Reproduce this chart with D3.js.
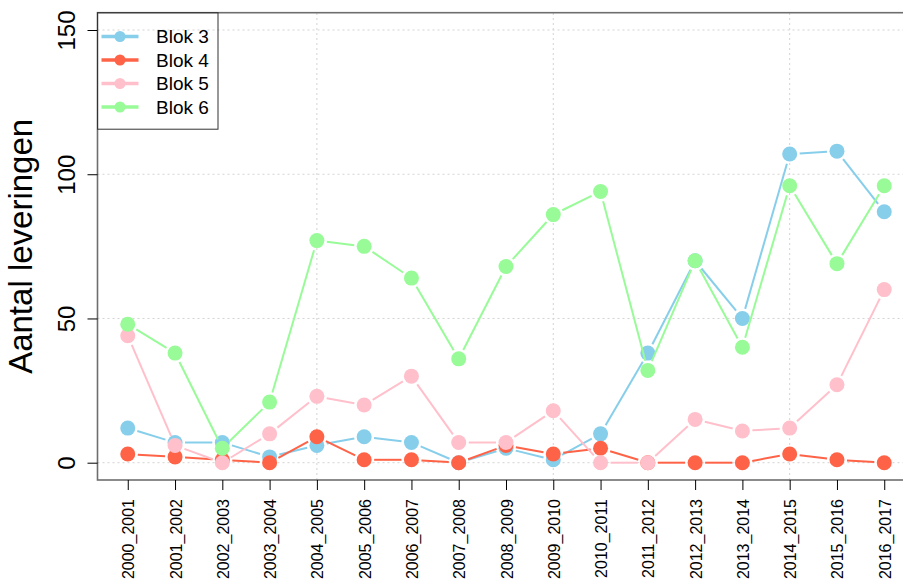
<!DOCTYPE html>
<html>
<head>
<meta charset="utf-8">
<script src="https://cdn.jsdelivr.net/npm/d3@7"></script>
<style>
  body { margin: 0; background: #fff; }
  svg { display: block; font-family: "Liberation Sans", Arial, sans-serif; }
</style>
</head>
<body>
<svg id="chart" width="903" height="580"></svg>
<script>
// seizoenen (x categories)
const seizoenen = ["2000_2001", "2001_2002", "2002_2003", "2003_2004", "2004_2005", "2005_2006",
  "2006_2007", "2007_2008", "2008_2009", "2009_2010", "2010_2011", "2011_2012", "2012_2013",
  "2013_2014", "2014_2015", "2015_2016", "2016_2017"];

const blok3 = [12, 7, 7, 2, 6, 9, 7, 0, 5, 1, 10, 38, 70, 50, 107, 108, 87];
const blok4 = [3, 2, 1, 0, 9, 1, 1, 0, 6, 3, 5, 0, 0, 0, 3, 1, 0];
const blok5 = [44, 6, 0, 10, 23, 20, 30, 7, 7, 18, 0, 0, 15, 11, 12, 27, 60];
const blok6 = [48, 38, 5, 21, 77, 75, 64, 36, 68, 86, 94, 32, 70, 40, 96, 69, 96];

const namen = ["Blok 3", "Blok 4", "Blok 5", "Blok 6"];
const kleuren = ["#87CEEB", "#FF6347", "#FFC0CB", "#98FB98"];
const yTicks = [0, 50, 100, 150];

const series = [blok3, blok4, blok5, blok6].map((v, i) => ({ naam: namen[i], kleur: kleuren[i], waarden: v }));

const svg = d3.select("#chart");

// R style: 4% extension around the data range
const x = d3.scaleLinear().domain([1 - 0.64, 17 + 0.64]).range([97.5, 914.5]);
const y = d3.scaleLinear().domain([-6, 156]).range([480, 12.7]);

// grid
const grid = svg.append("g");
grid.selectAll("line.h")
  .data(yTicks)
  .join("line")
  .attr("x1", x.range()[0]).attr("x2", x.range()[1])
  .attr("y1", d => y(d)).attr("y2", d => y(d))
  .style("stroke", "#d3d3d3")
  .style("stroke-dasharray", "2,3");
grid.selectAll("line.v")
  .data([5, 10, 15])
  .join("line")
  .attr("x1", d => x(d)).attr("x2", d => x(d))
  .attr("y1", y.range()[0]).attr("y2", y.range()[1])
  .style("stroke", "#d3d3d3")
  .style("stroke-dasharray", "2,3");

// lines + points, type="b" (gap round points)
const gap = 10;
series.forEach(s => {
  const pts = s.waarden.map((v, i) => [x(i + 1), y(v)]);
  const segs = [];
  for (let i = 0; i < pts.length - 1; i++) {
    const [x0, y0] = pts[i], [x1, y1] = pts[i + 1];
    const len = Math.hypot(x1 - x0, y1 - y0);
    if (len <= 2 * gap) continue;
    const ux = (x1 - x0) / len, uy = (y1 - y0) / len;
    segs.push([x0 + ux * gap, y0 + uy * gap, x1 - ux * gap, y1 - uy * gap]);
  }
  const g = svg.append("g");
  g.selectAll("line")
    .data(segs)
    .join("line")
    .attr("x1", d => d[0]).attr("y1", d => d[1])
    .attr("x2", d => d[2]).attr("y2", d => d[3])
    .style("stroke", s.kleur)
    .style("stroke-width", 2);
  g.selectAll("circle")
    .data(s.waarden)
    .join("circle")
    .attr("cx", (d, i) => x(i + 1))
    .attr("cy", d => y(d))
    .attr("r", 7.5)
    .style("fill", s.kleur);
});

// box
svg.append("rect")
  .attr("x", x.range()[0]).attr("y", y.range()[1])
  .attr("width", x.range()[1] - x.range()[0])
  .attr("height", y.range()[0] - y.range()[1])
  .style("fill", "none")
  .style("stroke", "#6e6e6e")
  .style("stroke-width", 1.6);

// y axis
const yAxis = svg.append("g")
  .attr("transform", `translate(${x.range()[0]},0)`)
  .call(d3.axisLeft(y).tickValues(yTicks).tickSize(10).tickPadding(0));
yAxis.select(".domain").remove();
yAxis.selectAll("text")
  .attr("x", null).attr("dy", null)
  .attr("transform", "translate(-22.5,0) rotate(-90)")
  .attr("text-anchor", "middle")
  .style("font-size", "24px")
  .style("font-family", "'Liberation Sans', Arial, sans-serif")
  .style("fill", "#000");

// x axis (labels kept inside the 580px frame)
const xAxis = svg.append("g")
  .attr("transform", `translate(0,${y.range()[0]})`)
  .call(d3.axisBottom(x).tickValues(d3.range(1, 18)).tickFormat(d => seizoenen[d - 1]).tickSize(10));
xAxis.select(".domain").remove();
xAxis.selectAll("text")
  .attr("y", null).attr("dy", null)
  .attr("transform", "translate(6,19) rotate(-90)")
  .attr("text-anchor", "end")
  .style("font-size", "16px")
  .style("font-family", "'Liberation Sans', Arial, sans-serif")
  .style("fill", "#000");

// y title
svg.append("text")
  .attr("transform", `translate(32,${(y(0) + y(150)) / 2}) rotate(-90)`)
  .attr("text-anchor", "middle")
  .style("font-size", "33px")
  .text("Aantal leveringen");

// legend
const leg = svg.append("g");
leg.append("rect")
  .attr("x", 97.5).attr("y", 12.7)
  .attr("width", 120.5).attr("height", 116.5)
  .style("fill", "none")
  .style("stroke", "#333")
  .style("stroke-width", 1);
const items = leg.selectAll("g.item")
  .data(series)
  .join("g")
  .attr("transform", (d, i) => `translate(0,${36.5 + i * 23.5})`);
items.append("line")
  .attr("x1", 101.5).attr("x2", 138.5)
  .style("stroke", d => d.kleur)
  .style("stroke-width", 3.5);
items.append("circle")
  .attr("cx", 120).attr("r", 5.5)
  .style("fill", d => d.kleur);
items.append("text")
  .attr("x", 156).attr("dy", "0.35em")
  .style("font-size", "19px")
  .text(d => d.naam);
</script>
</body>
</html>
